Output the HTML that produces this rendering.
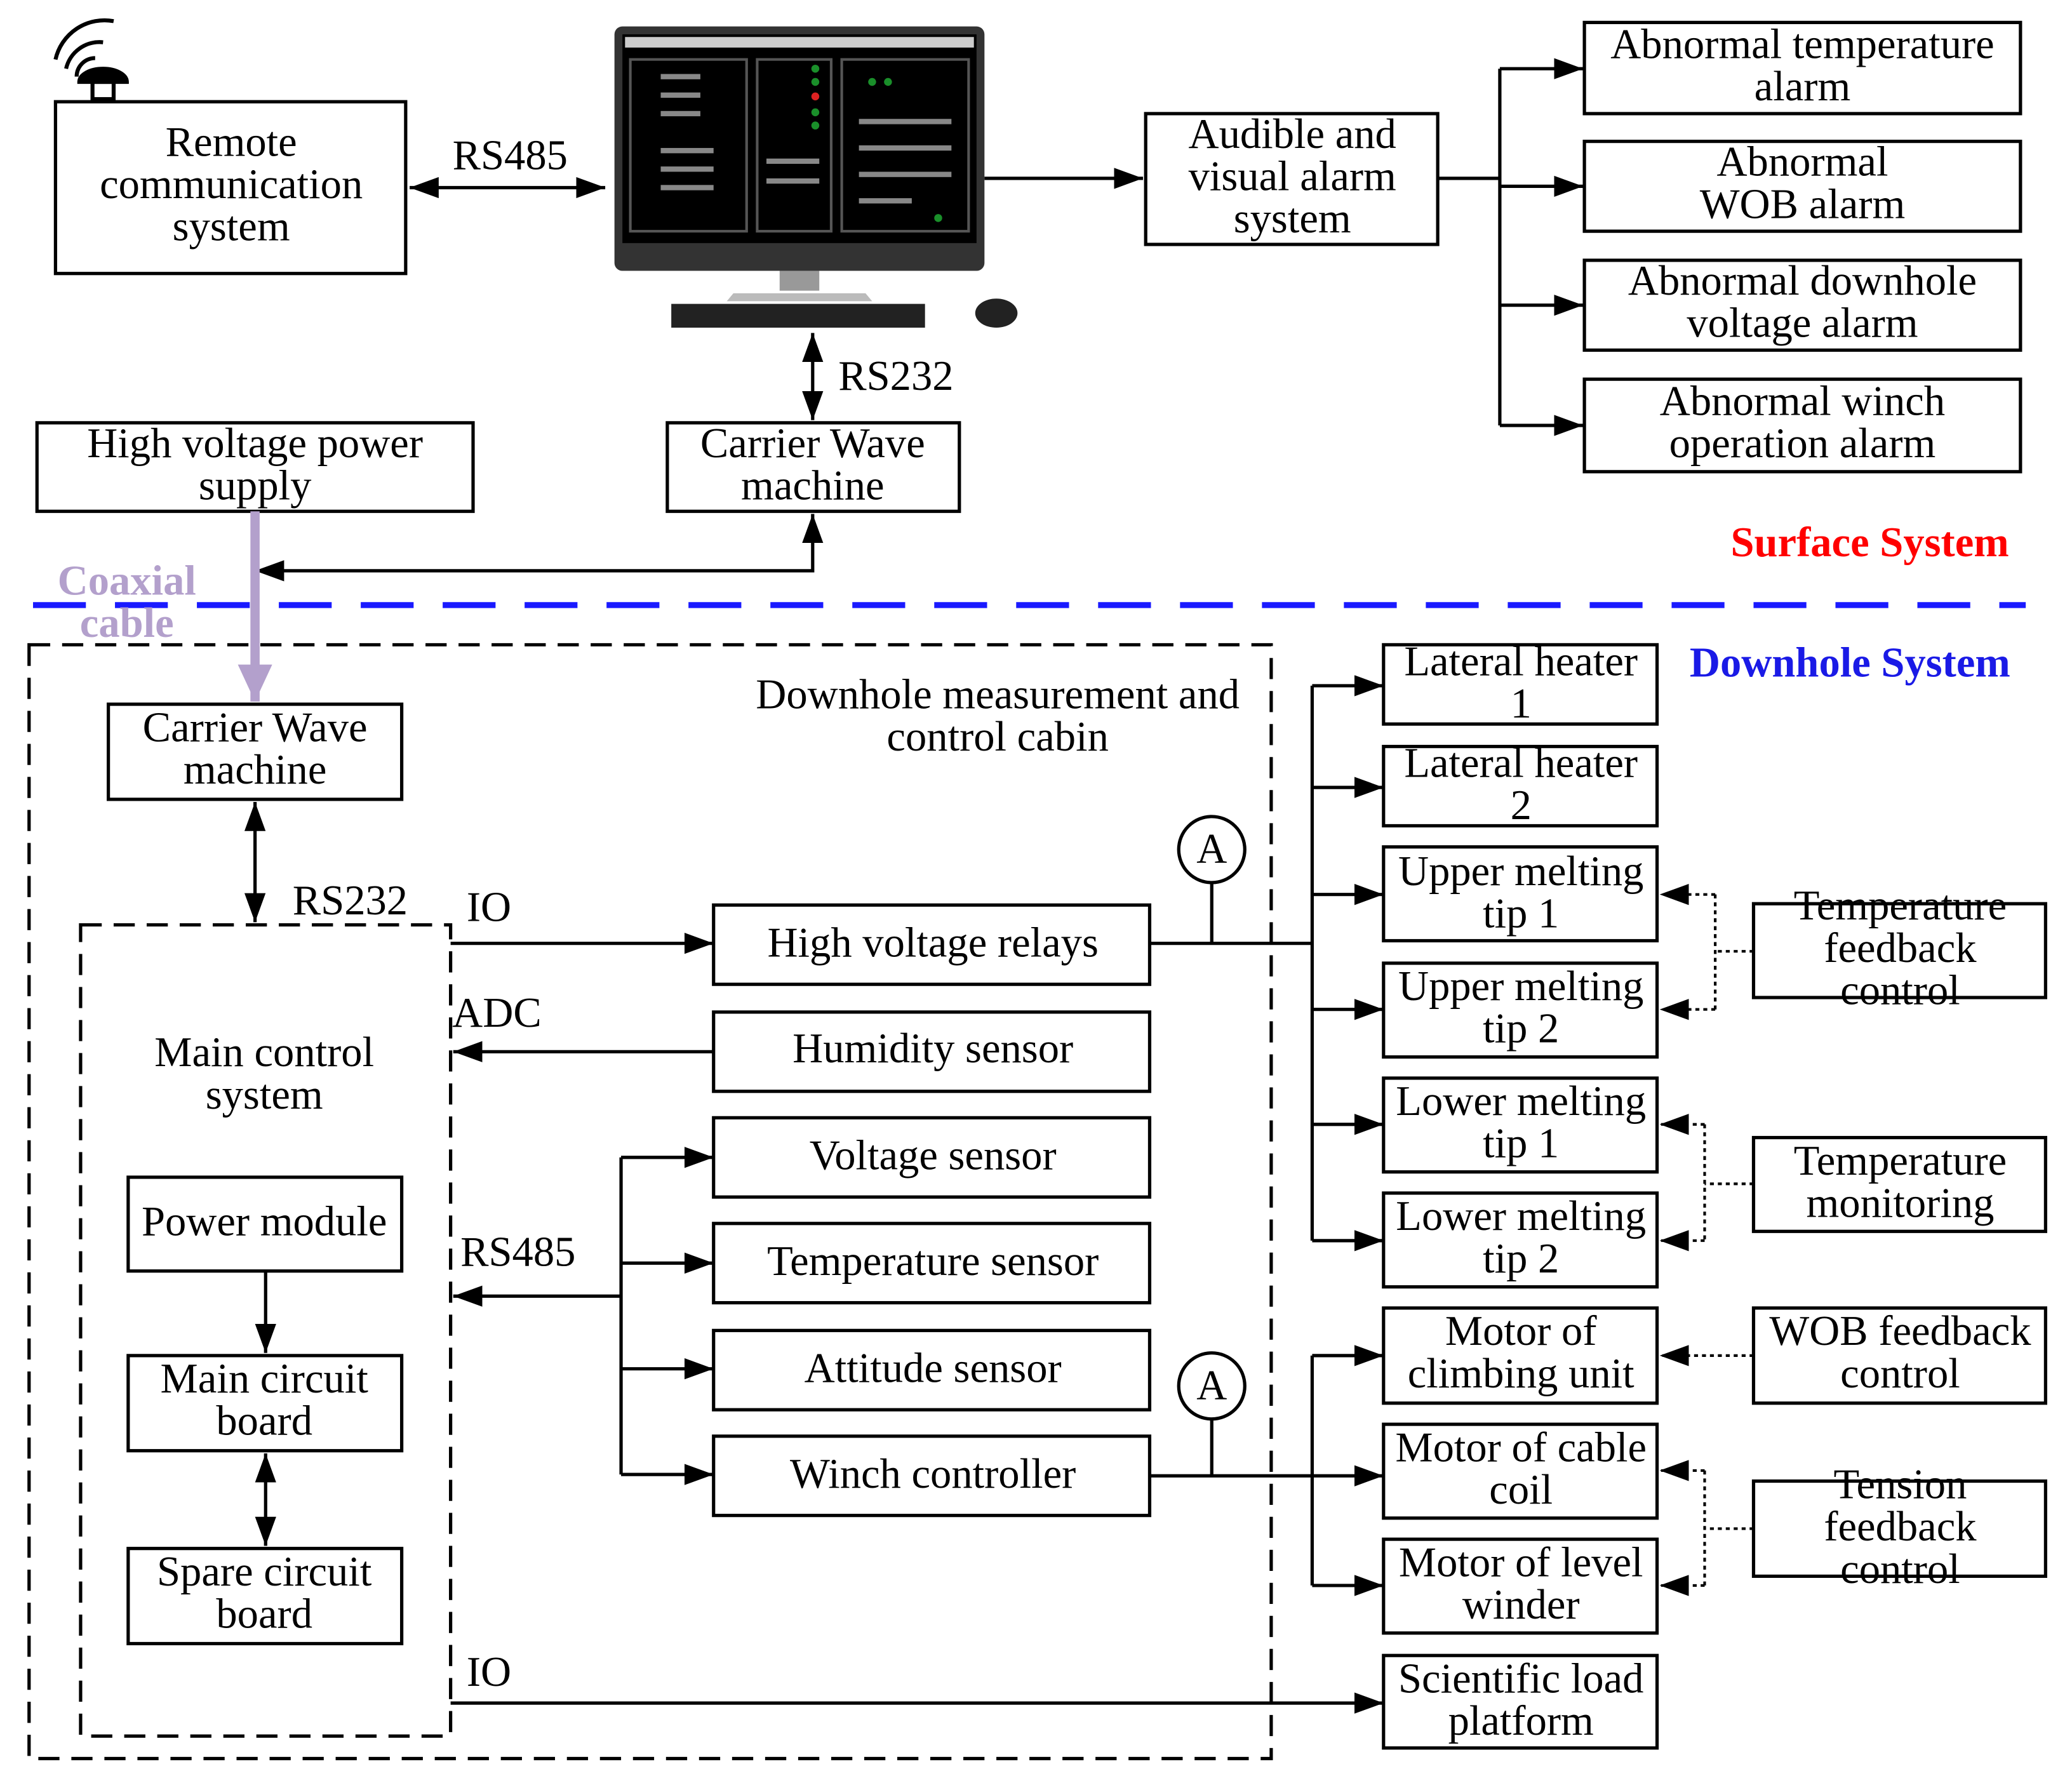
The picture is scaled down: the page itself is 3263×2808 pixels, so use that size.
<!DOCTYPE html>
<html><head><meta charset="utf-8"><style>
html,body{margin:0;padding:0;background:#fff;}
svg{display:block;}
text{font-family:"Liberation Serif",serif;font-size:32px;fill:#000;text-anchor:middle;}
</style></head><body>
<svg width="3263" height="2808" viewBox="0 0 1568 1349.5" preserveAspectRatio="none" xmlns="http://www.w3.org/2000/svg">
<defs>
<marker id="b" markerWidth="22" markerHeight="16" refX="22" refY="8" orient="auto-start-reverse" markerUnits="userSpaceOnUse"><path d="M0,0 L22,8 L0,16 z" fill="#000"/></marker>
<marker id="p" markerWidth="28" markerHeight="26" refX="28" refY="13" orient="auto" markerUnits="userSpaceOnUse"><path d="M0,0 L28,13 L0,26 z" fill="#b3a0cc"/></marker>
</defs>
<g fill="none" stroke="#000" stroke-width="2.5">
<rect x="42" y="77" width="265" height="130"/>
<rect x="867" y="86" width="221" height="99"/>
<rect x="1199" y="17" width="330" height="69"/>
<rect x="1199" y="107" width="330" height="68"/>
<rect x="1199" y="197" width="330" height="68"/>
<rect x="1199" y="287" width="330" height="70"/>
<rect x="28" y="320" width="330" height="67"/>
<rect x="505" y="320" width="221" height="67"/>
<rect x="82" y="533" width="222" height="72"/>
<rect x="97" y="891" width="207" height="71"/>
<rect x="97" y="1026" width="207" height="72"/>
<rect x="97" y="1172" width="207" height="72"/>
<rect x="540" y="685" width="330" height="60"/>
<rect x="540" y="766" width="330" height="60"/>
<rect x="540" y="846" width="330" height="60"/>
<rect x="540" y="926" width="330" height="60"/>
<rect x="540" y="1007" width="330" height="60"/>
<rect x="540" y="1087" width="330" height="60"/>
<rect x="1047" y="488" width="207" height="60"/>
<rect x="1047" y="565" width="207" height="60"/>
<rect x="1047" y="641" width="207" height="71"/>
<rect x="1047" y="729" width="207" height="71"/>
<rect x="1047" y="816" width="207" height="71"/>
<rect x="1047" y="903" width="207" height="71"/>
<rect x="1047" y="990" width="207" height="72"/>
<rect x="1047" y="1078" width="207" height="71"/>
<rect x="1047" y="1165" width="207" height="71"/>
<rect x="1047" y="1253" width="207" height="70"/>
<rect x="1327" y="684" width="221" height="71"/>
<rect x="1327" y="861" width="221" height="71"/>
<rect x="1327" y="990" width="221" height="72"/>
<rect x="1327" y="1121" width="221" height="72"/>
<rect x="22" y="488" width="940" height="843" stroke-dasharray="16,9"/>
<rect x="61" y="700" width="280" height="614" stroke-dasharray="16,9"/>
<circle cx="917" cy="643" r="25"/>
<circle cx="917" cy="1049" r="25"/>
</g>
<g fill="none" stroke="#000" stroke-width="2.5">
<line x1="310" y1="142" x2="458" y2="142" marker-start="url(#b)" marker-end="url(#b)"/>
<line x1="745" y1="135" x2="865" y2="135" marker-end="url(#b)"/>
<polyline points="1088,135 1135,135"/>
<line x1="1135" y1="52" x2="1135" y2="322"/>
<line x1="1135" y1="52" x2="1198" y2="52" marker-end="url(#b)"/>
<line x1="1135" y1="141" x2="1198" y2="141" marker-end="url(#b)"/>
<line x1="1135" y1="231" x2="1198" y2="231" marker-end="url(#b)"/>
<line x1="1135" y1="322" x2="1198" y2="322" marker-end="url(#b)"/>
<line x1="615" y1="252" x2="615" y2="318" marker-start="url(#b)" marker-end="url(#b)"/>
<polyline points="615,389 615,432 193,432" marker-start="url(#b)" marker-end="url(#b)"/>
<line x1="193" y1="607" x2="193" y2="698" marker-start="url(#b)" marker-end="url(#b)"/>
<line x1="201" y1="962" x2="201" y2="1024" marker-end="url(#b)"/>
<line x1="201" y1="1100" x2="201" y2="1170" marker-start="url(#b)" marker-end="url(#b)"/>
<line x1="341" y1="714" x2="540" y2="714" marker-end="url(#b)"/>
<line x1="540" y1="796" x2="343" y2="796" marker-end="url(#b)"/>
<line x1="470" y1="981" x2="343" y2="981" marker-end="url(#b)"/>
<line x1="470" y1="876" x2="470" y2="1116"/>
<line x1="470" y1="876" x2="540" y2="876" marker-end="url(#b)"/>
<line x1="470" y1="956" x2="540" y2="956" marker-end="url(#b)"/>
<line x1="470" y1="1036" x2="540" y2="1036" marker-end="url(#b)"/>
<line x1="470" y1="1116" x2="540" y2="1116" marker-end="url(#b)"/>
<line x1="870" y1="714" x2="993" y2="714"/>
<line x1="917" y1="668" x2="917" y2="714"/>
<line x1="993" y1="519" x2="993" y2="939"/>
<line x1="993" y1="519" x2="1047" y2="519" marker-end="url(#b)"/>
<line x1="993" y1="596" x2="1047" y2="596" marker-end="url(#b)"/>
<line x1="993" y1="677" x2="1047" y2="677" marker-end="url(#b)"/>
<line x1="993" y1="764" x2="1047" y2="764" marker-end="url(#b)"/>
<line x1="993" y1="851" x2="1047" y2="851" marker-end="url(#b)"/>
<line x1="993" y1="939" x2="1047" y2="939" marker-end="url(#b)"/>
<line x1="870" y1="1117" x2="1047" y2="1117" marker-end="url(#b)"/>
<line x1="917" y1="1074" x2="917" y2="1117"/>
<line x1="993" y1="1026" x2="993" y2="1200"/>
<line x1="993" y1="1026" x2="1047" y2="1026" marker-end="url(#b)"/>
<line x1="993" y1="1200" x2="1047" y2="1200" marker-end="url(#b)"/>
<line x1="341" y1="1289" x2="1047" y2="1289" marker-end="url(#b)"/>
</g>
<g fill="none" stroke="#000" stroke-width="2" stroke-dasharray="3,3">
<line x1="1327" y1="720" x2="1298" y2="720"/>
<line x1="1298" y1="677" x2="1298" y2="764"/>
<line x1="1298" y1="677" x2="1256" y2="677" marker-end="url(#b)"/>
<line x1="1298" y1="764" x2="1256" y2="764" marker-end="url(#b)"/>
<line x1="1327" y1="896" x2="1290" y2="896"/>
<line x1="1290" y1="851" x2="1290" y2="939"/>
<line x1="1290" y1="851" x2="1256" y2="851" marker-end="url(#b)"/>
<line x1="1290" y1="939" x2="1256" y2="939" marker-end="url(#b)"/>
<line x1="1327" y1="1026" x2="1256" y2="1026" marker-end="url(#b)"/>
<line x1="1327" y1="1157" x2="1290" y2="1157"/>
<line x1="1290" y1="1113" x2="1290" y2="1200"/>
<line x1="1290" y1="1113" x2="1256" y2="1113" marker-end="url(#b)"/>
<line x1="1290" y1="1200" x2="1256" y2="1200" marker-end="url(#b)"/>
</g>
<line x1="25" y1="458" x2="1533" y2="458" stroke="#1a1aff" stroke-width="4.5" stroke-dasharray="40,22"/>
<line x1="193" y1="387" x2="193" y2="531" stroke="#b3a0cc" stroke-width="7" marker-end="url(#p)"/>
<g fill="none" stroke="#000" stroke-width="3">
<path d="M58,58 A14,14 0 0 1 72,44"/>
<path d="M50,52 A26,26 0 0 1 78,32"/>
<path d="M42,45 A38,38 0 0 1 86,16"/>
<path d="M60,62 A18,10 0 0 1 96,62 Z" fill="#000"/>
<rect x="70" y="62" width="16" height="13"/>
</g>
<rect x="465" y="20" width="280" height="185" rx="6" fill="#333"/>
<rect x="471" y="26" width="268" height="158" fill="#000"/>
<rect x="473" y="28" width="264" height="8" fill="#ccc"/>
<g fill="#555"><rect x="476" y="44" width="90" height="132"/><rect x="572" y="44" width="58" height="132"/><rect x="636" y="44" width="98" height="132"/></g>
<g fill="#000"><rect x="478" y="46" width="86" height="128"/><rect x="574" y="46" width="54" height="128"/><rect x="638" y="46" width="94" height="128"/></g>
<g fill="#1a8f2a"><circle cx="617" cy="52" r="3"/><circle cx="617" cy="62" r="3"/><circle cx="617" cy="85" r="3"/><circle cx="617" cy="95" r="3"/><circle cx="660" cy="62" r="3"/><circle cx="672" cy="62" r="3"/><circle cx="710" cy="165" r="3"/></g>
<circle cx="617" cy="73" r="3" fill="#d22"/>
<g fill="#888"><rect x="500" y="56" width="30" height="4"/><rect x="500" y="70" width="30" height="4"/><rect x="500" y="84" width="30" height="4"/><rect x="500" y="112" width="40" height="4"/><rect x="500" y="126" width="40" height="4"/><rect x="500" y="140" width="40" height="4"/><rect x="650" y="90" width="70" height="4"/><rect x="650" y="110" width="70" height="4"/><rect x="650" y="130" width="70" height="4"/><rect x="580" y="120" width="40" height="4"/><rect x="580" y="135" width="40" height="4"/><rect x="650" y="150" width="40" height="4"/></g>
<rect x="590" y="205" width="30" height="15" fill="#999"/>
<path d="M555,222 L655,222 L660,228 L550,228 Z" fill="#bbb"/>
<rect x="508" y="230" width="192" height="18" fill="#222"/>
<ellipse cx="754" cy="237" rx="16" ry="11" fill="#222"/>
<text x="175" y="118">Remote</text><text x="175" y="150">communication</text><text x="175" y="182">system</text>
<text x="386" y="128">RS485</text>
<text x="978" y="112">Audible and</text><text x="978" y="144">visual alarm</text><text x="978" y="176">system</text>
<text x="1364" y="44">Abnormal temperature</text><text x="1364" y="76">alarm</text>
<text x="1364" y="133">Abnormal</text><text x="1364" y="165">WOB alarm</text>
<text x="1364" y="223">Abnormal downhole</text><text x="1364" y="255">voltage alarm</text>
<text x="1364" y="314">Abnormal winch</text><text x="1364" y="346">operation alarm</text>
<text x="678" y="295">RS232</text>
<text x="193" y="346">High voltage power</text><text x="193" y="378">supply</text>
<text x="615" y="346">Carrier Wave</text><text x="615" y="378">machine</text>
<text x="1415" y="421" style="fill:#f00;font-weight:bold;">Surface System</text>
<text x="1400" y="512" style="fill:#1a1ae6;font-weight:bold;">Downhole System</text>
<text x="96" y="450" style="fill:#b3a0cc;font-weight:bold;">Coaxial</text><text x="96" y="482" style="fill:#b3a0cc;font-weight:bold;">cable</text>
<text x="755" y="536">Downhole measurement and</text><text x="755" y="568">control cabin</text>
<text x="193" y="561">Carrier Wave</text><text x="193" y="593">machine</text>
<text x="265" y="692">RS232</text>
<text x="200" y="807">Main control</text><text x="200" y="839">system</text>
<text x="200" y="935">Power module</text>
<text x="200" y="1054">Main circuit</text><text x="200" y="1086">board</text>
<text x="200" y="1200">Spare circuit</text><text x="200" y="1232">board</text>
<text x="370" y="697">IO</text>
<text x="376" y="777">ADC</text>
<text x="392" y="958">RS485</text>
<text x="370" y="1276">IO</text>
<text x="706" y="724">High voltage relays</text>
<text x="706" y="804">Humidity sensor</text>
<text x="706" y="885">Voltage sensor</text>
<text x="706" y="965">Temperature sensor</text>
<text x="706" y="1046">Attitude sensor</text>
<text x="706" y="1126">Winch controller</text>
<text x="917" y="653">A</text><text x="917" y="1059">A</text>
<text x="1151" y="511">Lateral heater</text><text x="1151" y="543">1</text>
<text x="1151" y="588">Lateral heater</text><text x="1151" y="620">2</text>
<text x="1151" y="670">Upper melting</text><text x="1151" y="702">tip 1</text>
<text x="1151" y="757">Upper melting</text><text x="1151" y="789">tip 2</text>
<text x="1151" y="844">Lower melting</text><text x="1151" y="876">tip 1</text>
<text x="1151" y="931">Lower melting</text><text x="1151" y="963">tip 2</text>
<text x="1151" y="1018">Motor of</text><text x="1151" y="1050">climbing unit</text>
<text x="1151" y="1106">Motor of cable</text><text x="1151" y="1138">coil</text>
<text x="1151" y="1193">Motor of level</text><text x="1151" y="1225">winder</text>
<text x="1151" y="1281">Scientific load</text><text x="1151" y="1313">platform</text>
<text x="1438" y="696">Temperature</text><text x="1438" y="728">feedback</text><text x="1438" y="760">control</text>
<text x="1438" y="889">Temperature</text><text x="1438" y="921">monitoring</text>
<text x="1438" y="1018">WOB feedback</text><text x="1438" y="1050">control</text>
<text x="1438" y="1134">Tension</text><text x="1438" y="1166">feedback</text><text x="1438" y="1198">control</text>
</svg>
</body></html>
